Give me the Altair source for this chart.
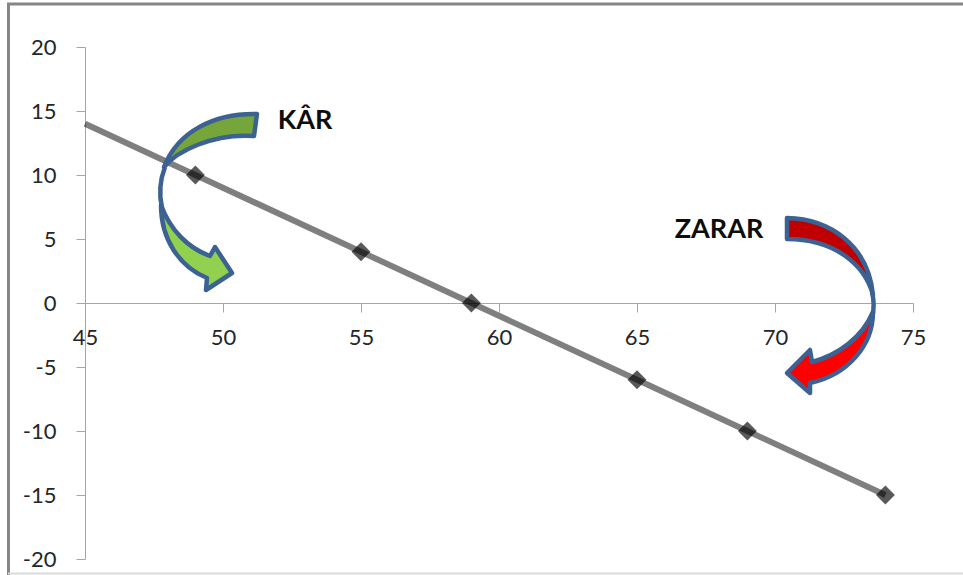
import altair as alt
import pandas as pd

# Break-even line: price on x, profit / loss on y
line_x = [45, 49, 55, 59, 65, 69, 74]
line_y = [14, 10, 4, 0, -6, -10, -15]
point_x = [49, 55, 59, 65, 69, 74]
point_y = [10, 4, 0, -6, -10, -15]

x_ticks = [45, 50, 55, 60, 65, 70, 75]
y_ticks = [-20, -15, -10, -5, 0, 5, 10, 15, 20]

PLOT_W, PLOT_H = 828, 512
PAD_L, PAD_T = 85, 47
FONT = "Lato"
BLUE = "#3b6292"

xs = alt.Scale(domain=[45, 75], nice=False, zero=False)
ys = alt.Scale(domain=[-20, 20], nice=False, zero=False)


def X(px):
    return 45 + (px - PAD_L) / PLOT_W * 30


def Y(py):
    return 20 - (py - PAD_T) / PLOT_H * 40


def shape(x, y, path, fill=None):
    # Custom-path symbol anchored at a data position; size 4 keeps path units in pixels
    kw = dict(shape=path, size=4, stroke=BLUE, strokeWidth=4.5, strokeJoin="round", opacity=1)
    kw["fill"] = fill if fill else "transparent"
    kw["filled"] = True
    return alt.Chart(pd.DataFrame({"x": [x], "y": [y]})).mark_point(**kw).encode(
        x=alt.X("x:Q", scale=xs, axis=None), y=alt.Y("y:Q", scale=ys, axis=None)
    )


def offset(points_cmd, ax, ay):
    # Moves an absolute outline so that it is relative to its anchor
    out = []
    for tok in points_cmd:
        if isinstance(tok, str):
            out.append(tok)
        else:
            out.append(f"{tok[0]-ax} {tok[1]-ay}")
    return " ".join(out)


# Curved arrows: darker back band, brighter front band with the head
GA = (210, 200)
green_back = offset(["M", (257, 114), "C", (215, 113), (178, 131), (164, 167), "C", (176, 152), (212, 133), (254, 136), "Z"], *GA)
green_neck = offset(["M", (165, 167), "C", (160, 180), (159, 195), (162, 208)], *GA)
green_front = offset(["M", (161, 205), "C", (161, 240), (180, 267), (207, 278), "L", (206, 290), "L", (232, 273), "L", (215, 247),
                      "L", (210, 256), "C", (188, 248), (170, 230), (161, 205), "Z"], *GA)

RA = (830, 300)
red_back = offset(["M", (787, 218), "C", (830, 219), (868, 245), (873, 295), "C", (865, 265), (835, 239), (787, 239), "Z"], *RA)
red_neck = offset(["M", (872, 292), "C", (874, 300), (874, 310), (872, 318)], *RA)
red_front = offset(["M", (873, 312), "C", (873, 345), (848, 375), (810, 383), "L", (810, 393), "L", (787, 373), "L", (810, 350),
                    "L", (812, 362), "C", (838, 355), (862, 338), (873, 312), "Z"], *RA)

line_df = pd.DataFrame({"x": line_x, "y": line_y})
point_df = pd.DataFrame({"x": point_x, "y": point_y})

axes = alt.Chart(line_df).mark_line(opacity=0).encode(
    x=alt.X("x:Q", scale=xs, axis=alt.Axis(values=x_ticks, title=None, grid=False, offset=-256,
                                           domainColor="#a6a6a6", tickColor="#a6a6a6", tickSize=9,
                                           labelFont=FONT, labelFontSize=22, labelColor="#262626",
                                           labelPadding=15, labelExpr="toString(datum.value)",
                                           labelFlush=False, labelOverlap=False)),
    y=alt.Y("y:Q", scale=ys, axis=alt.Axis(values=y_ticks, title=None, grid=False,
                                           domainColor="#a6a6a6", tickColor="#a6a6a6", tickSize=9,
                                           labelFont=FONT, labelFontSize=22, labelColor="#262626",
                                           labelPadding=20, labelExpr="toString(datum.value)",
                                           labelOverlap=False)),
)

markers = alt.Chart(point_df).mark_point(shape="diamond", size=360, filled=True, color="black", opacity=0.65).encode(
    x=alt.X("x:Q", scale=xs, axis=None), y=alt.Y("y:Q", scale=ys, axis=None)
)
trend = alt.Chart(line_df).mark_line(color="black", opacity=0.5, strokeWidth=6).encode(
    x=alt.X("x:Q", scale=xs, axis=None), y=alt.Y("y:Q", scale=ys, axis=None)
)


def label(txt, x, y):
    return alt.Chart(pd.DataFrame({"x": [x], "y": [y], "t": [txt]})).mark_text(
        font=FONT, fontWeight="bold", fontSize=27, color="#0d0d0d", align="center", baseline="middle"
    ).encode(x=alt.X("x:Q", scale=xs, axis=None), y=alt.Y("y:Q", scale=ys, axis=None), text="t:N")


def edge(x, x2, y, y2, color, w):
    return alt.Chart(pd.DataFrame({"a": [0]})).mark_rule(color=color, strokeWidth=w).encode(
        x=alt.value(x - PAD_L), x2=alt.value(x2 - PAD_L), y=alt.value(y - PAD_T), y2=alt.value(y2 - PAD_T)
    )


frame = (
    edge(8.5, 8.5, 4, 575, "#868686", 3)
    + edge(7, 963, 4, 4, "#868686", 3)
    + edge(8, 963, 573.5, 573.5, "#d9d9d9", 2)
)

chart = alt.layer(
    frame,
    axes,
    markers,
    trend,
    shape(X(GA[0]), Y(GA[1]), green_back, "#76a53a"),
    shape(X(GA[0]), Y(GA[1]), green_front, "#92d050"),
    shape(X(GA[0]), Y(GA[1]), green_neck),
    shape(X(RA[0]), Y(RA[1]), red_back, "#c00000"),
    shape(X(RA[0]), Y(RA[1]), red_front, "#ff0000"),
    shape(X(RA[0]), Y(RA[1]), red_neck),
    label("KÂR", X(305), Y(121)),
    label("ZARAR", X(719), Y(230)),
).resolve_axis(x="independent", y="independent").properties(
    width=PLOT_W,
    height=PLOT_H,
    autosize=alt.AutoSizeParams(type="none"),
    padding={"left": PAD_L, "top": PAD_T, "right": 50, "bottom": 16},
    background="white",
).configure_view(stroke=None)

chart.save("out.html", embed_options={"renderer": "svg", "actions": False})
